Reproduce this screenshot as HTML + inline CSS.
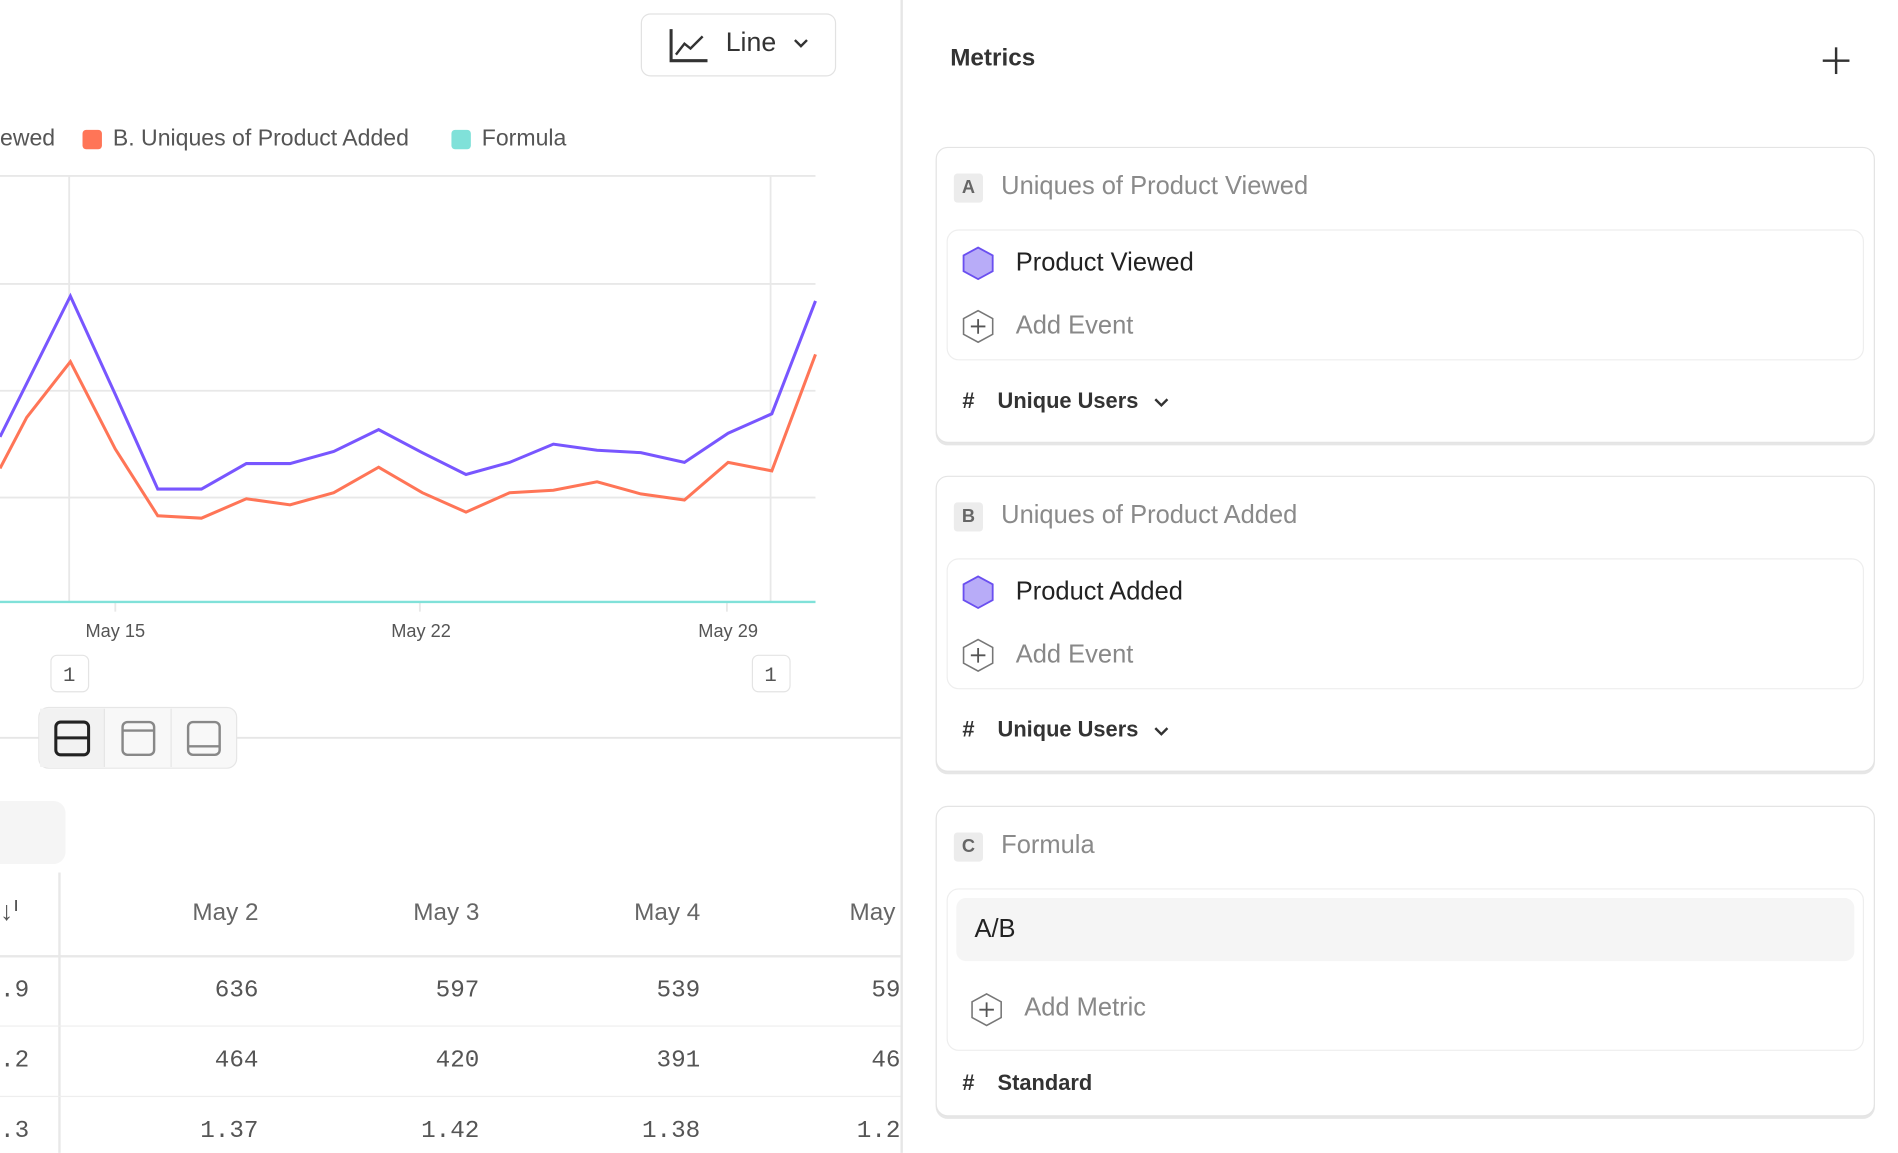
<!DOCTYPE html>
<html><head><meta charset="utf-8"><style>
html,body{margin:0;padding:0;width:1898px;height:1152px;overflow:hidden;background:#fff}
#w{position:absolute;left:0;top:0;width:1564px;height:950px;transform:scale(1.21355);transform-origin:0 0;font-family:"Liberation Sans",sans-serif;color:#333}
.a{position:absolute}
.card{position:absolute;left:771px;width:772px;border:1.5px solid #e4e4e4;border-radius:10px;background:#fff;box-shadow:0 2px 0 #e6e6e6}
.inner{position:absolute;left:8px;right:8px;border:1px solid #eee;border-radius:10px}
.badge{position:absolute;left:14px;width:24px;height:24px;background:#ececec;border-radius:3px;font-size:15px;font-weight:bold;color:#666;text-align:center;line-height:24px}
.ttl{position:absolute;left:53px;font-size:21px;color:#8a8a8a}
.num{font-family:"Liberation Mono",monospace;font-size:20px;color:#555;position:absolute;text-align:right}
.hd{position:absolute;font-size:20px;color:#666;text-align:right}
</style></head><body><div id="w">
<div class="a" style="left:528px;top:11px;width:159px;height:50px;border:1.5px solid #e2e2e2;border-radius:8px"></div>
<svg class="a" style="left:551px;top:21px" width="34" height="32"><path d="M2 3V29H32" stroke="#333" stroke-width="2.5" fill="none"/><path d="M6 24L13 15L18 19L28 9" stroke="#333" stroke-width="2" fill="none"/></svg>
<div class="a" style="left:598px;top:22px;font-size:22px;color:#333">Line</div>
<svg class="a" style="left:653px;top:31px" width="14" height="10"><path d="M2 2L7 7L12 2" stroke="#333" stroke-width="2" fill="none"/></svg>
<div class="a" style="left:0;top:104px;font-size:19px;color:#555">ewed</div>
<div class="a" style="left:68px;top:107px;width:16px;height:16px;background:#ff7557;border-radius:3px"></div>
<div class="a" style="left:93px;top:104px;font-size:19px;color:#555">B. Uniques of Product Added</div>
<div class="a" style="left:372px;top:107px;width:16px;height:16px;background:#80e1d9;border-radius:3px"></div>
<div class="a" style="left:397px;top:104px;font-size:19px;color:#555">Formula</div>
<svg class="a" style="left:0;top:0" width="742" height="640">
<g stroke="#e8e8e8" stroke-width="1.5">
<line x1="0" y1="145" x2="672" y2="145"/><line x1="0" y1="234" x2="672" y2="234"/><line x1="0" y1="322" x2="672" y2="322"/><line x1="0" y1="410" x2="672" y2="410"/>
<line x1="57" y1="145" x2="57" y2="496"/><line x1="635" y1="145" x2="635" y2="496"/>
<line x1="95" y1="496" x2="95" y2="504"/><line x1="346" y1="496" x2="346" y2="504"/><line x1="599" y1="496" x2="599" y2="504"/>
</g>
<line x1="0" y1="496" x2="672" y2="496" stroke="#80e1d9" stroke-width="2"/>
<polyline fill="none" stroke="#ff7557" stroke-width="2.5" points="0,386 22,344 58,298 95,370 130,425 166,427 203,411 239,416 275,406 312,385 348,406 384,422 420,406 456,404 492,397 528,407 564,412 600,381 636,388 672,292"/>
<polyline fill="none" stroke="#7856ff" stroke-width="2.5" points="0,360 58,244 95,325 130,403 166,403 203,382 239,382 275,372 312,354 348,373 384,391 420,381 456,366 492,371 528,373 564,381 600,357 636,341 672,248"/>
<g font-size="15" fill="#555" text-anchor="middle"><text x="95" y="525">May 15</text><text x="347" y="525">May 22</text><text x="600" y="525">May 29</text></g>
<rect x="42" y="540" width="31" height="30" rx="5" fill="#fff" stroke="#e4e4e4"/><rect x="620" y="540" width="31" height="30" rx="5" fill="#fff" stroke="#e4e4e4"/>
<g font-family="Liberation Mono" font-size="17" fill="#555" text-anchor="middle"><text x="57" y="561">1</text><text x="635" y="561">1</text></g>
<line x1="0" y1="608" x2="742" y2="608" stroke="#e6e6e6" stroke-width="1.5"/>
<rect x="32" y="583" width="163" height="50" rx="8" fill="#f8f8f8" stroke="#e6e6e6"/>
<rect x="33" y="584" width="53" height="48" fill="#f2f2f2"/>
<line x1="86" y1="584" x2="86" y2="632" stroke="#e6e6e6"/><line x1="141" y1="584" x2="141" y2="632" stroke="#e6e6e6"/>
<rect x="46" y="595" width="27" height="27" rx="4" fill="none" stroke="#222" stroke-width="2.5"/><line x1="46" y1="608" x2="73" y2="608" stroke="#222" stroke-width="2.5"/>
<rect x="101" y="595" width="26" height="27" rx="4" fill="none" stroke="#888" stroke-width="2"/><line x1="101" y1="602" x2="127" y2="602" stroke="#888" stroke-width="2"/>
<rect x="155" y="595" width="26" height="27" rx="4" fill="none" stroke="#888" stroke-width="2"/><line x1="155" y1="615" x2="181" y2="615" stroke="#888" stroke-width="2"/>
</svg>
<div class="a" style="left:0;top:660px;width:54px;height:52px;background:#f5f5f5;border-radius:0 10px 10px 0"></div>
<div class="a" style="left:48px;top:719px;width:2px;height:231px;background:#e8e8e8"></div>
<div class="a" style="left:0;top:787px;width:742px;height:2px;background:#e8e8e8"></div>
<div class="a" style="left:0;top:845px;width:742px;height:1px;background:#eee"></div>
<div class="a" style="left:0;top:903px;width:742px;height:1px;background:#eee"></div>
<div class="a" style="left:0;top:738px;font-size:22px;color:#555">↓ᑊ</div>
<div class="hd" style="left:113px;top:741px;width:100px">May 2</div>
<div class="hd" style="left:295px;top:741px;width:100px">May 3</div>
<div class="hd" style="left:477px;top:741px;width:100px">May 4</div>
<div class="a" style="left:700px;top:741px;font-size:20px;color:#666">May</div>
<div class="num" style="left:0;top:805px">.9</div><div class="num" style="left:113px;top:805px;width:100px">636</div><div class="num" style="left:295px;top:805px;width:100px">597</div><div class="num" style="left:477px;top:805px;width:100px">539</div><div class="num" style="left:718px;top:805px">59</div>
<div class="num" style="left:0;top:863px">.2</div><div class="num" style="left:113px;top:863px;width:100px">464</div><div class="num" style="left:295px;top:863px;width:100px">420</div><div class="num" style="left:477px;top:863px;width:100px">391</div><div class="num" style="left:718px;top:863px">46</div>
<div class="num" style="left:0;top:921px">.3</div><div class="num" style="left:113px;top:921px;width:100px">1.37</div><div class="num" style="left:295px;top:921px;width:100px">1.42</div><div class="num" style="left:477px;top:921px;width:100px">1.38</div><div class="num" style="left:706px;top:921px">1.2</div>
<div class="a" style="left:742px;top:0;width:1.5px;height:950px;background:#e6e6e6"></div>
<div class="a" style="left:783px;top:37px;font-size:20px;font-weight:bold;color:#333">Metrics</div>
<div class="a" style="left:1502px;top:49px;width:22px;height:2px;background:#333"></div>
<div class="a" style="left:1512px;top:39px;width:2px;height:22px;background:#333"></div>

<div class="card" style="top:121px;height:242px">
<div class="badge" style="top:21px">A</div><div class="ttl" style="top:20px">Uniques of Product Viewed</div>
<div class="inner" style="top:67px;height:106px">
<svg class="a" style="left:11px;top:13px" width="28" height="28"><polygon points="14,1 26,7.5 26,20.5 14,27 2,20.5 2,7.5" fill="#b8acf8" stroke="#6a4ff0" stroke-width="1.5"/></svg>
<div class="a" style="left:56px;top:15px;font-size:21px;color:#222">Product Viewed</div>
<svg class="a" style="left:11px;top:65px" width="28" height="28"><polygon points="14,1 26,7.5 26,20.5 14,27 2,20.5 2,7.5" fill="none" stroke="#777" stroke-width="1.3"/><path d="M14 8V20M8 14H20" stroke="#555" stroke-width="1.5"/></svg>
<div class="a" style="left:56px;top:67px;font-size:21px;color:#888">Add Event</div>
</div>
<div class="a" style="left:21px;top:198px;font-size:18px;font-weight:bold;color:#333">#</div>
<div class="a" style="left:50px;top:198px;font-size:18px;font-weight:bold;color:#333">Unique Users</div>
<svg class="a" style="left:178px;top:205px" width="14" height="10"><path d="M2 2L7 7L12 2" stroke="#333" stroke-width="2" fill="none"/></svg>
</div>

<div class="card" style="top:392px;height:242px">
<div class="badge" style="top:21px">B</div><div class="ttl" style="top:20px">Uniques of Product Added</div>
<div class="inner" style="top:67px;height:106px">
<svg class="a" style="left:11px;top:13px" width="28" height="28"><polygon points="14,1 26,7.5 26,20.5 14,27 2,20.5 2,7.5" fill="#b8acf8" stroke="#6a4ff0" stroke-width="1.5"/></svg>
<div class="a" style="left:56px;top:15px;font-size:21px;color:#222">Product Added</div>
<svg class="a" style="left:11px;top:65px" width="28" height="28"><polygon points="14,1 26,7.5 26,20.5 14,27 2,20.5 2,7.5" fill="none" stroke="#777" stroke-width="1.3"/><path d="M14 8V20M8 14H20" stroke="#555" stroke-width="1.5"/></svg>
<div class="a" style="left:56px;top:67px;font-size:21px;color:#888">Add Event</div>
</div>
<div class="a" style="left:21px;top:198px;font-size:18px;font-weight:bold;color:#333">#</div>
<div class="a" style="left:50px;top:198px;font-size:18px;font-weight:bold;color:#333">Unique Users</div>
<svg class="a" style="left:178px;top:205px" width="14" height="10"><path d="M2 2L7 7L12 2" stroke="#333" stroke-width="2" fill="none"/></svg>
</div>

<div class="card" style="top:664px;height:254px">
<div class="badge" style="top:21px">C</div><div class="ttl" style="top:20px">Formula</div>
<div class="inner" style="top:67px;height:132px">
<div class="a" style="left:7px;top:7px;right:7px;height:52px;background:#f5f5f5;border-radius:8px"></div>
<div class="a" style="left:22px;top:21px;font-size:21px;color:#222">A/B</div>
<svg class="a" style="left:18px;top:85px" width="28" height="28"><polygon points="14,1 26,7.5 26,20.5 14,27 2,20.5 2,7.5" fill="none" stroke="#777" stroke-width="1.3"/><path d="M14 8V20M8 14H20" stroke="#555" stroke-width="1.5"/></svg>
<div class="a" style="left:63px;top:86px;font-size:21px;color:#888">Add Metric</div>
</div>
<div class="a" style="left:21px;top:217px;font-size:18px;font-weight:bold;color:#333">#</div>
<div class="a" style="left:50px;top:217px;font-size:18px;font-weight:bold;color:#333">Standard</div>
</div>
</div></body></html>
